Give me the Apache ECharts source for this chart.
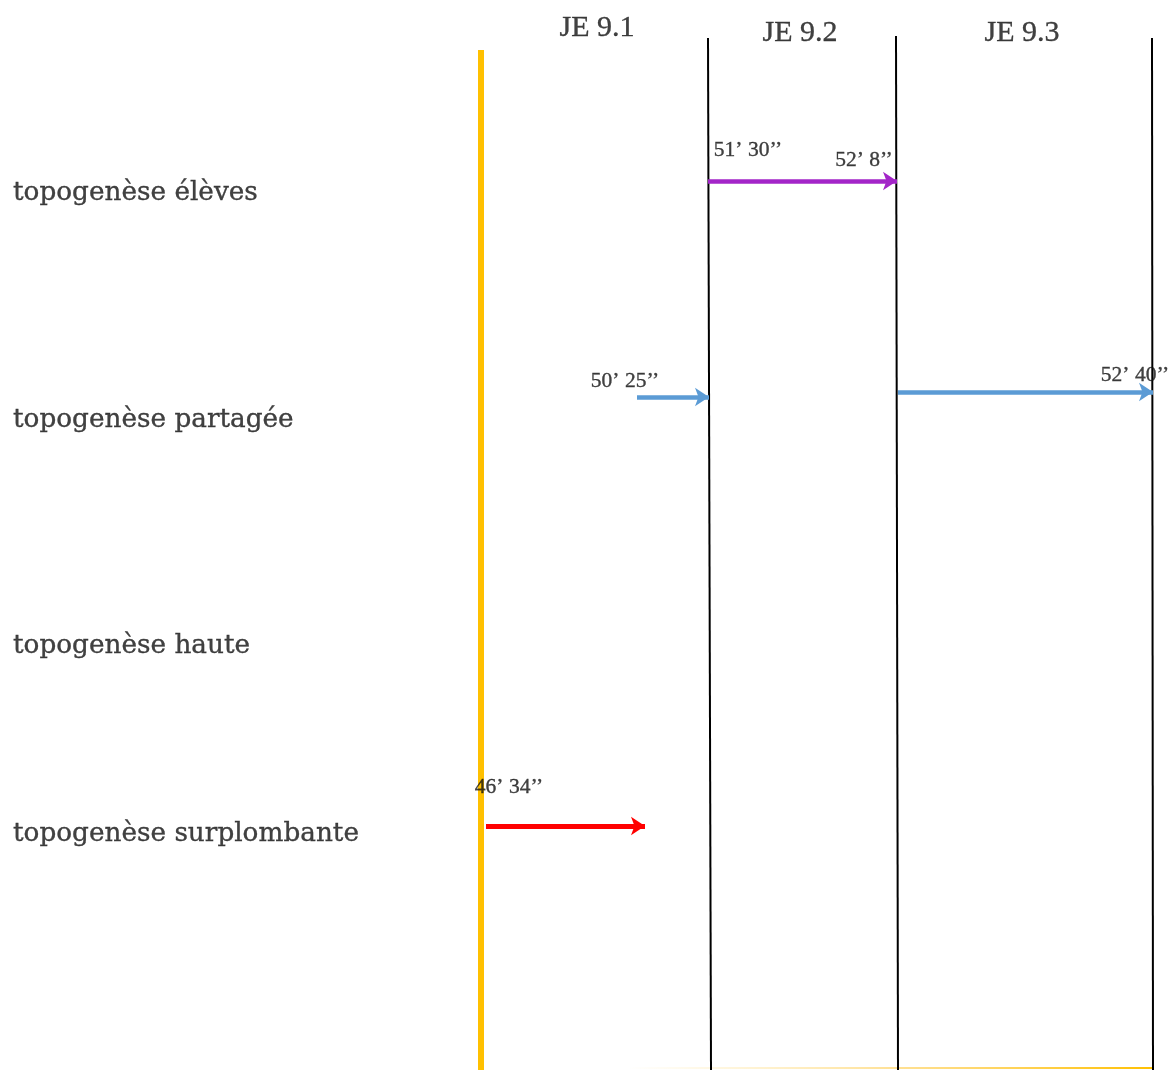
<!DOCTYPE html>
<html>
<head>
<meta charset="utf-8">
<script src="https://cdn.jsdelivr.net/npm/echarts@6/dist/echarts.min.js"></script>
<style>
html,body{margin:0;padding:0;background:#fff;}
#chart{width:1170px;height:1070px;}
</style>
</head>
<body>
<div id="chart"></div>
<script>
// Schematic coordinates (x: timeline units, y: vertical units, top = 0)
const rowLabels = ['topogenèse élèves', 'topogenèse partagée', 'topogenèse haute', 'topogenèse surplombante'];
const rowY = [193, 420, 646, 834];

const phaseLabels = ['JE 9.1', 'JE 9.2', 'JE 9.3'];
const phaseLabelX = [597, 800, 1022];
const phaseLabelY = [28, 33, 33];

const startLine = [[481, 50], [481, 1070]];
const dividerTop = [[708, 38], [896, 36], [1152, 38]];
const dividerBottom = [[711, 1070], [898, 1070], [1153, 1070]];
const baseLine = [[630, 1068], [1152, 1068]];

const arrowNames = ['élèves', 'partagée 1', 'partagée 2', 'surplombante'];
const arrowFrom = [[708, 181], [637, 397], [898, 392], [486, 826]];
const arrowTo = [[897, 181], [709, 397], [1153, 392], [645, 826]];
const arrowColors = ['#A325C8', '#5B9BD5', '#5B9BD5', '#FF0000'];

const timeLabels = ['51’ 30’’', '52’ 8’’', '50’ 25’’', '52’ 40’’', '46’ 34’’'];
const timeLabelX = [748, 864, 625, 1135, 509];
const timeLabelY = [150, 160, 381, 375, 787];

const chart = echarts.init(document.getElementById('chart'), null, {renderer: 'canvas'});

const dividerData = dividerTop.map((t, i) => ({coords: [t, dividerBottom[i]]}));
const arrowData = arrowFrom.map((f, i) => ({
  name: arrowNames[i],
  coords: [f, arrowTo[i]],
  lineStyle: {color: arrowColors[i], width: i === 3 ? 5 : 4.5}
}));

const textBase = {color: '#111111', textBorderColor: '#111111', textBorderWidth: 0.35};

const option = {
  animation: false,
  backgroundColor: '#ffffff',
  grid: {left: 0, right: 0, top: 0, bottom: 0},
  xAxis: {type: 'value', min: 0, max: 1170, show: false},
  yAxis: {type: 'value', min: 0, max: 1070, inverse: true, show: false},
  series: [
    {
      type: 'lines', coordinateSystem: 'cartesian2d', z: 1,
      data: [{coords: baseLine}],
      lineStyle: {width: 2, opacity: 1, color: new echarts.graphic.LinearGradient(0, 0, 1, 0, [
        {offset: 0, color: 'rgba(255,220,120,0)'},
        {offset: 0.5, color: 'rgba(255,205,80,0.6)'},
        {offset: 1, color: '#FFC000'}
      ])},
      symbol: 'none', silent: true
    },
    {
      type: 'lines', coordinateSystem: 'cartesian2d', z: 2,
      data: [{coords: startLine}],
      lineStyle: {color: '#FFC000', width: 6, opacity: 1},
      symbol: 'none', silent: true
    },
    {
      type: 'lines', coordinateSystem: 'cartesian2d', z: 2,
      data: dividerData,
      lineStyle: {color: '#000000', width: 2, opacity: 1},
      symbol: 'none', silent: true
    },
    {
      type: 'lines', coordinateSystem: 'cartesian2d', z: 3,
      data: arrowData,
      lineStyle: {opacity: 1},
      symbol: ['none', 'arrow'], symbolSize: [11, 14], silent: true
    },
    {
      type: 'scatter', z: 5, symbolSize: 0, silent: true,
      data: rowLabels.map((r, i) => ({name: r, value: [13, rowY[i]]})),
      label: Object.assign({show: true, position: 'inside', align: 'left', verticalAlign: 'middle',
        formatter: p => p.name, fontFamily: 'DejaVu Serif', fontSize: 26.3}, textBase)
    },
    {
      type: 'scatter', z: 5, symbolSize: 0, silent: true,
      data: phaseLabels.map((r, i) => ({name: r, value: [phaseLabelX[i], phaseLabelY[i]]})),
      label: Object.assign({show: true, position: 'inside', align: 'center', verticalAlign: 'middle',
        formatter: p => p.name, fontFamily: 'Liberation Serif', fontSize: 30}, textBase)
    },
    {
      type: 'scatter', z: 5, symbolSize: 0, silent: true,
      data: timeLabels.map((r, i) => ({name: r, value: [timeLabelX[i], timeLabelY[i]]})),
      label: Object.assign({show: true, position: 'inside', align: 'center', verticalAlign: 'middle',
        formatter: p => p.name, fontFamily: 'Liberation Serif', fontSize: 21.5}, textBase)
    }
  ]
};
chart.setOption(option);
</script>
</body>
</html>
